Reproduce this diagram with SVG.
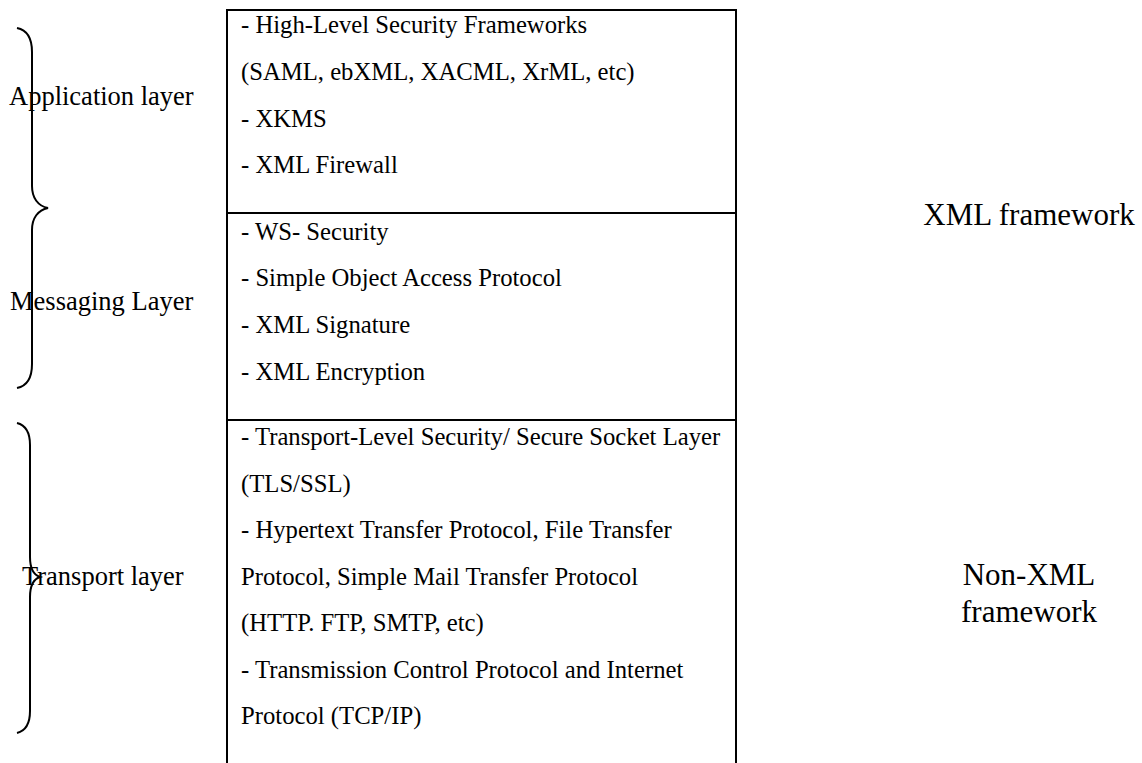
<svg xmlns="http://www.w3.org/2000/svg" width="1142" height="763" viewBox="0 0 1142 763">
<style>
.t{font-family:"Liberation Serif","Times New Roman",serif;font-size:24.7px;fill:#000}
.l{font-family:"Liberation Serif","Times New Roman",serif;font-size:26.5px;fill:#000}
.r{font-family:"Liberation Serif","Times New Roman",serif;font-size:31px;fill:#000;text-anchor:middle}
.ln{stroke:#000;stroke-width:2;fill:none}
</style>
<rect width="1142" height="763" fill="#fff"/>
<g id="stack">
<g id="application-box">
<path class="ln" d="M227,770 L227,10 L736,10 L736,770"/>
<text class="t" x="241" y="33">- High-Level Security Frameworks</text>
<text class="t" x="241" y="80">(SAML, ebXML, XACML, XrML, etc)</text>
<text class="t" x="241" y="127">- XKMS</text>
<text class="t" x="241" y="173">- XML Firewall</text>
</g>
<g id="messaging-box">
<line class="ln" x1="227" y1="213" x2="736" y2="213"/>
<text class="t" x="241" y="240">- WS- Security</text>
<text class="t" x="241" y="286">- Simple Object Access Protocol</text>
<text class="t" x="241" y="333">- XML Signature</text>
<text class="t" x="241" y="380">- XML Encryption</text>
</g>
<g id="transport-box">
<line class="ln" x1="227" y1="420" x2="736" y2="420"/>
<text class="t" x="241" y="445">- Transport-Level Security/ Secure Socket Layer</text>
<text class="t" x="241" y="492">(TLS/SSL)</text>
<text class="t" x="241" y="538">- Hypertext Transfer Protocol, File Transfer</text>
<text class="t" x="241" y="585">Protocol, Simple Mail Transfer Protocol</text>
<text class="t" x="241" y="631">(HTTP. FTP, SMTP, etc)</text>
<text class="t" x="241" y="678">- Transmission Control Protocol and Internet</text>
<text class="t" x="241" y="724">Protocol (TCP/IP)</text>
</g>
</g>
<g id="braces">
<path class="ln" d="M17,28 C27,30 32,38 32,52 L32,186 C32,198 38,206 48,208 C38,210 32,218 32,230 L32,364 C32,378 27,386 17,388"/>
<path class="ln" d="M17,423 C25,425 30,432 30,445 L30,557 C30,568 34,575 40,577 C34,579 30,586 30,597 L30,711 C30,724 25,731 17,733"/>
</g>
<g id="layer-labels">
<text class="l" x="9" y="105">Application layer</text>
<text class="l" x="10" y="310">Messaging Layer</text>
<text class="l" x="22" y="585">Transport layer</text>
</g>
<g id="framework-labels">
<text class="r" x="1029" y="225">XML framework</text>
<text class="r" x="1029" y="585">Non-XML</text>
<text class="r" x="1029" y="622">framework</text>
</g>
</svg>
